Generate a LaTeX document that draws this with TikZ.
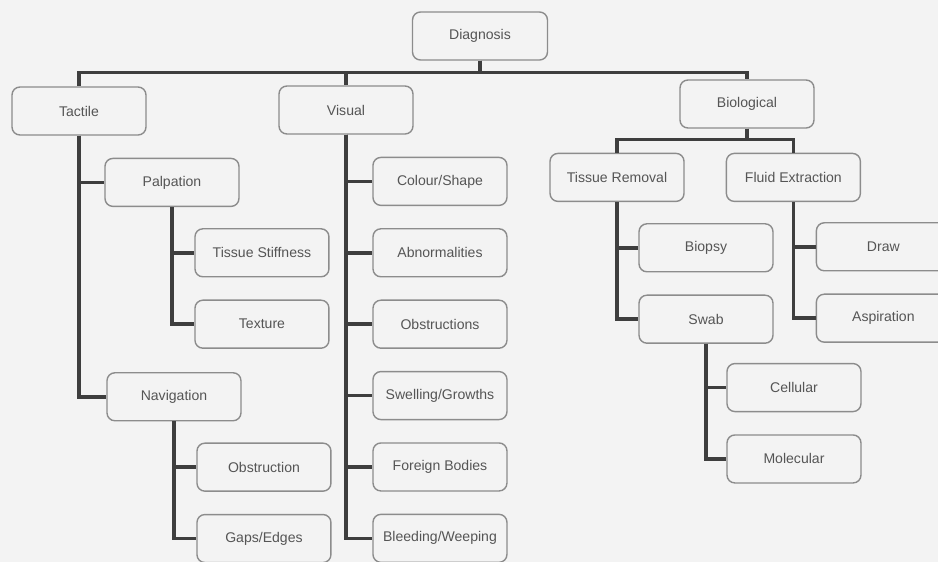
\documentclass[tikz,border=0pt]{standalone}
\usepackage{fontspec}
\setmainfont{Liberation Sans}
\usepackage{xcolor}
\definecolor{mybg}{HTML}{F3F3F3}
\definecolor{myedge}{HTML}{8C8C8C}
\definecolor{mytext}{HTML}{555555}
\definecolor{mylink}{HTML}{3E3E3E}
\usepackage{tikz}
\usetikzlibrary{positioning}
\tikzstyle{cat} = [rectangle, rounded corners=4.5pt, minimum width=2.68cm, minimum height=0.96cm, text centered, draw=myedge, line width=0.8pt, fill=mybg, text=mytext, font=\fontsize{8}{10}\selectfont]
\tikzstyle{link} = [line width=2pt, mylink]

\begin{document}
\begin{tikzpicture}[x=0.02cm,y=-0.02cm,node distance=0.44cm]
	\fill[mybg] (0,0) rectangle (938,562);
	\useasboundingbox (0,0) rectangle (938,562);
	\node (diag) [cat, minimum width=2.7cm] at (480,36) {Diagnosis};
	\node (tactile) [cat] at (79,111) {Tactile};
	\node (visual) [cat] at (346,110) {Visual};
	\node (bio) [cat] at (747,104) {Biological};
	% tactile branch
	\node (palp) [cat, below=0.44cm of tactile, xshift=1.86cm] {Palpation};
	\node (stiff) [cat, below=0.42cm of palp, xshift=1.8cm] {Tissue Stiffness};
	\node (texture) [cat, below=of stiff] {Texture};
	\node (nav) [cat, below=3.3cm of palp, xshift=0.04cm] {Navigation};
	\node (obstr) [cat, below=0.42cm of nav, xshift=1.8cm] {Obstruction};
	\node (gaps) [cat, below=of obstr] {Gaps/Edges};
	% visual branch
	\node (colour) [cat, below=0.44cm of visual, xshift=1.88cm] {Colour/Shape};
	\node (abnorm) [cat, below=of colour] {Abnormalities};
	\node (obstrs) [cat, below=of abnorm] {Obstructions};
	\node (swell) [cat, below=of obstrs] {Swelling/Growths};
	\node (foreign) [cat, below=of swell] {Foreign Bodies};
	\node (bleed) [cat, below=of foreign] {Bleeding/Weeping};
	% biological branch
	\node (tissue) [cat, below=0.48cm of bio, xshift=-2.6cm] {Tissue Removal};
	\node (fluid) [cat, right=0.82cm of tissue] {Fluid Extraction};
	\node (biopsy) [cat, below=0.42cm of tissue, xshift=1.78cm] {Biopsy};
	\node (swab) [cat, below=of biopsy] {Swab};
	\node (cell) [cat, below=0.38cm of swab, xshift=1.76cm] {Cellular};
	\node (molec) [cat, below=of cell] {Molecular};
	\node (draw) [cat, below=0.4cm of fluid, xshift=1.8cm] {Draw};
	\node (aspir) [cat, below=of draw] {Aspiration};
	\draw [link] (diag.south) -- ++(0,12) -| (tactile.north);
	\draw [link] (diag.south) -- ++(0,12) -| (visual.north);
	\draw [link] (diag.south) -- ++(0,12) -| (bio.north);
	\draw [link] (tactile.south) |- (palp.west);
	\draw [link] (tactile.south) |- (nav.west);
	\draw [link] (palp.south) |- (stiff.west);
	\draw [link] (palp.south) |- (texture.west);
	\draw [link] (nav.south) |- (obstr.west);
	\draw [link] (nav.south) |- (gaps.west);
	\draw [link] (visual.south) |- (colour.west);
	\draw [link] (visual.south) |- (abnorm.west);
	\draw [link] (visual.south) |- (obstrs.west);
	\draw [link] (visual.south) |- (swell.west);
	\draw [link] (visual.south) |- (foreign.west);
	\draw [link] (visual.south) |- (bleed.west);
	\draw [link] (bio.south) -- ++(0,11) -| (tissue.north);
	\draw [link] (bio.south) -- ++(0,11) -| (fluid.north);
	\draw [link] (tissue.south) |- (biopsy.west);
	\draw [link] (tissue.south) |- (swab.west);
	\draw [link] (fluid.south) |- (draw.west);
	\draw [link] (fluid.south) |- (aspir.west);
	\draw [link] (swab.south) |- (cell.west);
	\draw [link] (swab.south) |- (molec.west);
\end{tikzpicture}
\end{document}
